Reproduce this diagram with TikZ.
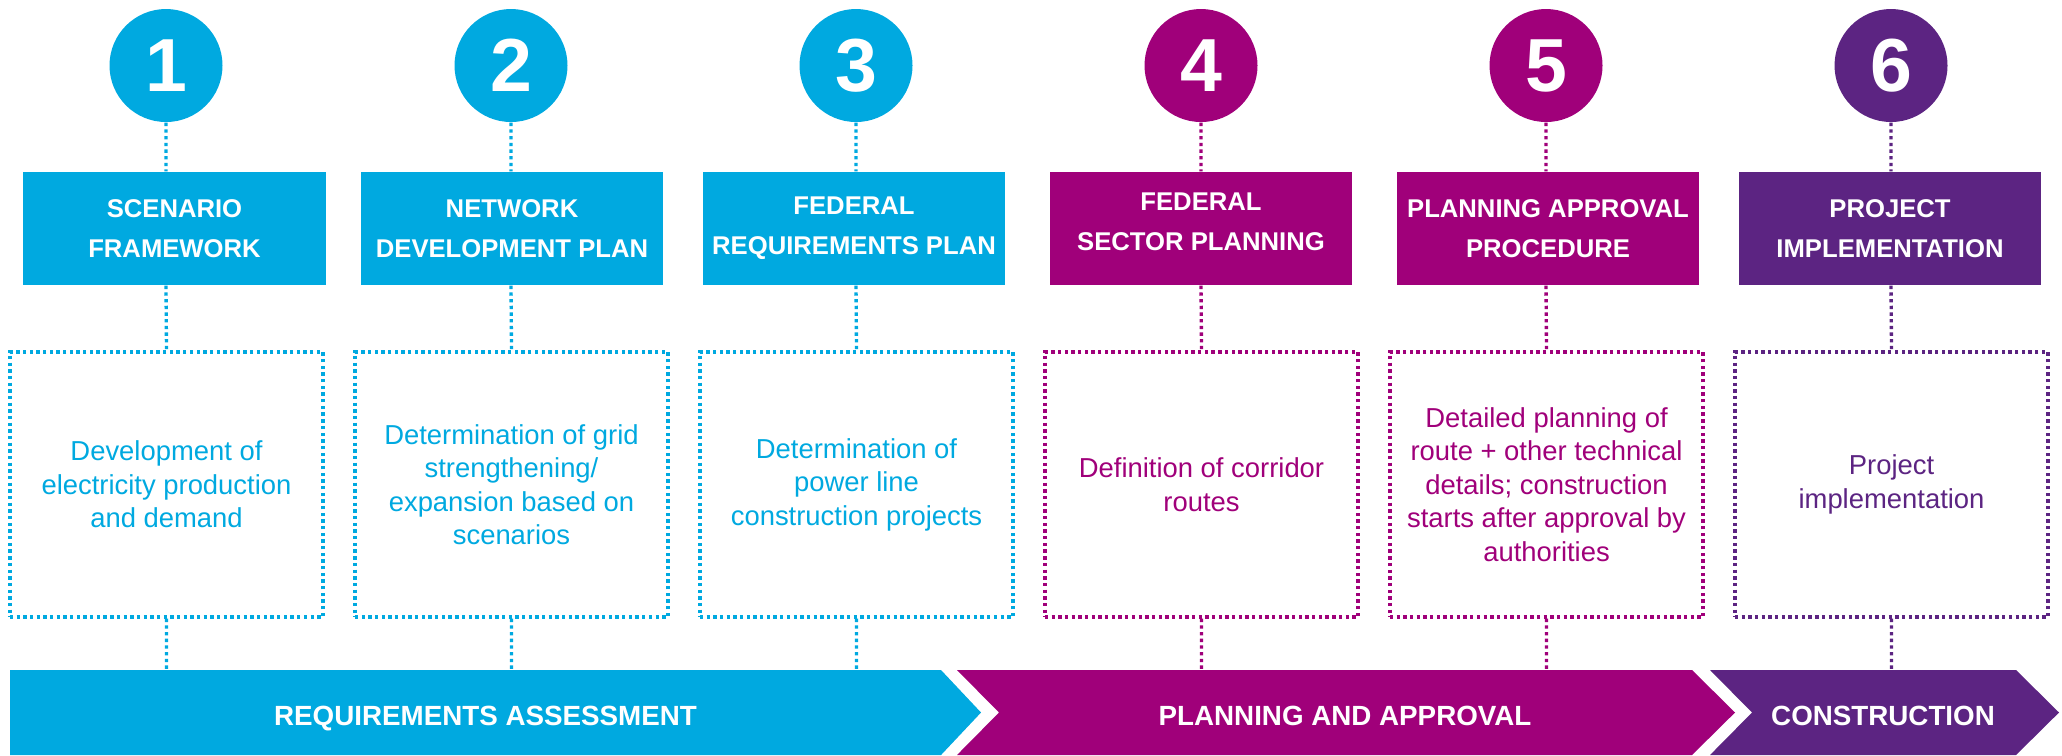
\documentclass[tikz,border=0pt]{standalone}
\usepackage{fontspec}
\setmainfont{Liberation Sans}

\definecolor{reqcyan}{HTML}{00A9E0}
\definecolor{planmagenta}{HTML}{A0007A}
\definecolor{buildpurple}{HTML}{5C2482}

\begin{document}
\begin{tikzpicture}[
  numdot/.style={circle,fill=#1,text=white,minimum size=1.13cm,inner sep=0pt,
    font=\fontsize{21.4}{24}\selectfont\bfseries},
  headbox/.style={fill=#1,text=white,minimum width=3.02cm,minimum height=1.13cm,
    inner sep=0pt,align=center,font=\fontsize{7.3}{11.4}\selectfont\bfseries},
  descbox/.style={draw=#1,text=#1,line width=0.95pt,dash pattern=on 0.95pt off 0.95pt,
    minimum width=3.13cm,minimum height=2.65cm,inner sep=0pt,align=center,
    font=\fontsize{7.8}{9.5}\selectfont},
  link/.style={draw=#1,line width=0.95pt,dash pattern=on 0.95pt off 0.95pt},
  bandtext/.style={text=white,anchor=base,font=\fontsize{7.9}{9.5}\selectfont\bfseries}
]
\useasboundingbox (0,0) rectangle (20.62,-7.55);
\coordinate (band) at (0,-6.70);

% numbered steps
\node[numdot=reqcyan]     (n1) at (1.66,-0.655)  {1};
\node[numdot=reqcyan]     (n2) at (5.11,-0.655)  {2};
\node[numdot=reqcyan]     (n3) at (8.56,-0.655)  {3};
\node[numdot=planmagenta] (n4) at (12.01,-0.655) {4};
\node[numdot=planmagenta] (n5) at (15.46,-0.655) {5};
\node[numdot=buildpurple] (n6) at (18.91,-0.655) {6};

% step titles (the first one sits a little right of its number)
\node[headbox=reqcyan]     (h1) at (1.745,-2.285) {SCENARIO\\FRAMEWORK};
\node[headbox=reqcyan]     (h2) at (5.12,-2.285)  {NETWORK\\DEVELOPMENT PLAN};
\node[headbox=reqcyan]     (h3) at (8.54,-2.285)  {FEDERAL\\REQUIREMENTS PLAN};
\node[headbox=planmagenta,text depth=4pt] (h4) at (12.01,-2.285) {FEDERAL\\SECTOR PLANNING};
\node[headbox=planmagenta] (h5) at (15.48,-2.285) {PLANNING APPROVAL\\PROCEDURE};
\node[headbox=buildpurple] (h6) at (18.90,-2.285) {PROJECT\\IMPLEMENTATION};

% what happens in each step
\node[descbox=reqcyan]     (d1) at (1.665,-4.845)  {Development of\\electricity production\\and demand};
\node[descbox=reqcyan]     (d2) at (5.115,-4.845)  {Determination of grid\\strengthening/\\expansion based on\\scenarios};
\node[descbox=reqcyan]     (d3) at (8.565,-4.845)  {Determination of\\power line\\construction projects};
\node[descbox=planmagenta] (d4) at (12.015,-4.845) {Definition of corridor\\routes};
\node[descbox=planmagenta] (d5) at (15.465,-4.845) {Detailed planning of\\route + other technical\\details; construction\\starts after approval by\\authorities};
\node[descbox=buildpurple] (d6) at (18.915,-4.845) {Project\\implementation};

% dotted drop lines, number -> title -> text -> band
\draw[link=reqcyan]     (n1) -- (n1 |- h1.north) (n1 |- h1.south) -- (d1.north) (d1.south) -- (d1.south |- band);
\draw[link=reqcyan]     (n2) -- (n2 |- h2.north) (n2 |- h2.south) -- (d2.north) (d2.south) -- (d2.south |- band);
\draw[link=reqcyan]     (n3) -- (n3 |- h3.north) (n3 |- h3.south) -- (d3.north) (d3.south) -- (d3.south |- band);
\draw[link=planmagenta] (n4) -- (n4 |- h4.north) (n4 |- h4.south) -- (d4.north) (d4.south) -- (d4.south |- band);
\draw[link=planmagenta] (n5) -- (n5 |- h5.north) (n5 |- h5.south) -- (d5.north) (d5.south) -- (d5.south |- band);
\draw[link=buildpurple] (n6) -- (n6 |- h6.north) (n6 |- h6.south) -- (d6.north) (d6.south) -- (d6.south |- band);

% phase band along the bottom
\fill[reqcyan] (0.10,-6.70) -- (9.41,-6.70) -- (9.81,-7.125) -- (9.41,-7.55) -- (0.10,-7.55) -- cycle;
\fill[planmagenta] (9.57,-6.70) -- (16.92,-6.70) -- (17.35,-7.125) -- (16.92,-7.55)
  -- (9.57,-7.55) -- (9.99,-7.125) -- cycle;
\fill[buildpurple] (17.10,-6.70) -- (20.16,-6.70) -- (20.59,-7.125) -- (20.16,-7.55)
  -- (17.10,-7.55) -- (17.52,-7.125) -- cycle;
\node[bandtext] (p1) at (4.855,-7.25) {REQUIREMENTS ASSESSMENT};
\node[bandtext] (p2) at (13.45,-7.25) {PLANNING AND APPROVAL};
\node[bandtext] (p3) at (18.83,-7.25) {CONSTRUCTION};
\end{tikzpicture}
\end{document}
